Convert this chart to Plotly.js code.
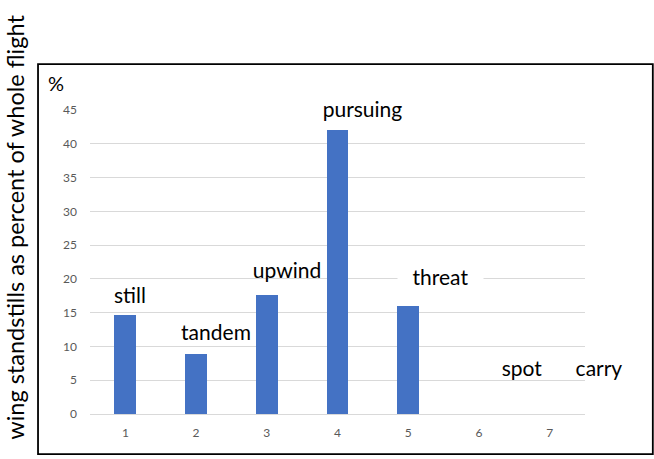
<!DOCTYPE html>
<html>
<head>
<meta charset="utf-8">
<script src="https://cdn.plot.ly/plotly-3.0.1.min.js"></script>
<style>
  html, body { margin: 0; padding: 0; background: #fff; }
  #chart { width: 654px; height: 459px; }
</style>
</head>
<body>
<div id="chart"></div>
<script>
// Flight behaviour categories and share of wing standstills (%)
const categories = [1, 2, 3, 4, 5, 6, 7];
const behaviours = ['still', 'tandem', 'upwind', 'pursuing', 'threat', 'spot', 'carry'];
const standstillPercent = [14.7, 8.9, 17.6, 42.1, 16.0, 0, 0];
const yTicks = [0, 5, 10, 15, 20, 25, 30, 35, 40, 45];

// Label placement relative to each bar top (px); opaque boxes hide the grid behind them
const labelStyle = [
  { dx: 5,  dy: 20, w: 46,  opaque: false },
  { dx: 20, dy: 22, w: 74,  opaque: false },
  { dx: 20, dy: 26, w: 76,  opaque: false },
  { dx: 25, dy: 21, w: 113, opaque: true },
  { dx: 32, dy: 29, w: 85,  opaque: true },
  { dx: 43, dy: 47, w: 50,  opaque: false },
  { dx: 49, dy: 47, w: 54,  opaque: false }
];

const FONT = 'Lato, "Open Sans", sans-serif';

const trace = {
  type: 'bar',
  x: categories,
  y: standstillPercent,
  width: 0.31,
  marker: { color: '#4472c4' },
  hoverinfo: 'skip'
};

const annotations = behaviours.map((name, i) => ({
  xref: 'x', yref: 'y',
  x: categories[i], y: standstillPercent[i],
  xshift: labelStyle[i].dx, yshift: labelStyle[i].dy,
  text: name,
  showarrow: false,
  xanchor: 'center', yanchor: 'middle',
  width: labelStyle[i].w, height: 27,
  bgcolor: labelStyle[i].opaque ? '#ffffff' : 'rgba(0,0,0,0)', borderpad: 0,
  font: { family: FONT, size: 21, color: '#000000' }
}));

annotations.push({
  xref: 'paper', yref: 'paper', x: -0.068, y: 1.09,
  text: '%', showarrow: false, xanchor: 'center', yanchor: 'middle',
  font: { family: FONT, size: 20, color: '#000000' }
});

annotations.push({
  xref: 'paper', yref: 'paper', x: -0.152, y: 0.615,
  text: 'wing standstills as percent of whole flight',
  textangle: -90, showarrow: false, xanchor: 'center', yanchor: 'middle',
  font: { family: FONT, size: 23.5, color: '#000000' }
});

const layout = {
  width: 654, height: 459,
  margin: { l: 90, r: 69, t: 110, b: 45, pad: 0 },
  paper_bgcolor: '#ffffff', plot_bgcolor: '#ffffff',
  showlegend: false,
  bargap: 0,
  xaxis: {
    type: 'linear', range: [0.5, 7.5],
    tickvals: categories, ticktext: categories.map(String),
    showgrid: false, zeroline: false, showline: false,
    ticks: '', ticklabelstandoff: 10,
    tickfont: { family: FONT, size: 12, color: '#595959' }
  },
  yaxis: {
    range: [0, 45], tickvals: yTicks,
    showgrid: true, gridcolor: '#d9d9d9', gridwidth: 1,
    zeroline: true, zerolinecolor: '#d9d9d9', zerolinewidth: 1,
    showline: false, ticks: '', ticklabelstandoff: 12,
    tickfont: { family: FONT, size: 12, color: '#595959' }
  },
  shapes: [{
    type: 'rect', xref: 'paper', yref: 'paper',
    x0: -0.105, x1: 1.137, y0: -0.132, y1: 1.151,
    line: { color: '#000000', width: 1.8 }, fillcolor: 'rgba(0,0,0,0)'
  }],
  annotations: annotations
};

Plotly.newPlot('chart', [trace], layout, { displayModeBar: false, staticPlot: true });
</script>
</body>
</html>
